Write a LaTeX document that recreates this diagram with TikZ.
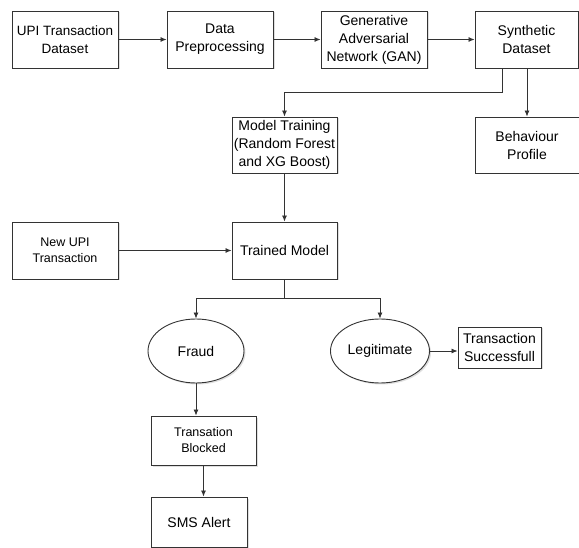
\documentclass[tikz,border=0pt]{standalone}
\usepackage{fontspec}
\setmainfont{Liberation Sans}
\usepackage{tikz}
\usetikzlibrary{arrows.meta}
\usetikzlibrary{shapes.geometric}
\usetikzlibrary{shadows}

\tikzset{
  stepbox/.style={draw=black!80, line width=0.9pt, fill=white, align=center,
    inner sep=1pt, font=\fontsize{14}{18}\selectfont,
    drop shadow={opacity=0.25, shadow xshift=1.5pt, shadow yshift=-1.5pt}},
  smallbox/.style={stepbox, font=\fontsize{12.5}{16}\selectfont},
  outcome/.style={stepbox, ellipse, inner sep=0pt},
  arr/.style={draw=black!80, line width=0.8pt, -{Latex[length=6pt,width=5pt]}}
}

\begin{document}
\begin{tikzpicture}[x=1pt,y=-1pt]
    \useasboundingbox (0,0) rectangle (579,548);
    % first row
    \node[stepbox, minimum width=106pt, minimum height=57pt,
      font=\fontsize{13.5}{18}\selectfont] (upi) at (65,39.5) {UPI Transaction\\Dataset};
    \node[stepbox, minimum width=106pt, minimum height=57pt] (prep) at (220,39.5) {Data\\Preprocessing};
    \node[stepbox, minimum width=106pt, minimum height=57pt] (gan) at (374,39.5) {Generative\\Adversarial\\Network (GAN)};
    \node[stepbox, minimum width=103pt, minimum height=57pt] (synth) at (526.5,39.5) {Synthetic\\Dataset};
    % training
    \node[stepbox, minimum width=104pt, minimum height=56pt] (behav) at (527,145) {Behaviour\\Profile};
    \node[stepbox, minimum width=105pt, minimum height=56pt] (train) at (284.5,145) {Model Training\\(Random Forest\\and XG Boost)};
    \node[smallbox, minimum width=106pt, minimum height=57pt] (newupi) at (65,250.5) {New UPI\\Transaction};
    \node[stepbox, minimum width=105pt, minimum height=57pt] (trained) at (284.5,250.5) {Trained Model};
    % outcomes
    \node[outcome, minimum width=96pt, minimum height=64pt] (fraud) at (196,351) {Fraud};
    \node[outcome, minimum width=99pt, minimum height=64pt] (legit) at (380,351) {Legitimate};
    \node[stepbox, minimum width=83pt, minimum height=41pt] (succ) at (499.5,347.5) {Transaction\\Successfull};
    \node[smallbox, minimum width=105pt, minimum height=49pt] (blocked) at (203.5,440.5) {Transation\\Blocked};
    \node[stepbox, minimum width=96pt, minimum height=50pt] (sms) at (199,522) {SMS Alert};
    \coordinate (fork) at (284.5,298);

    \draw[arr] (upi) -- (prep);
    \draw[arr] (prep) -- (gan);
    \draw[arr] (gan) -- (synth);
    \draw[arr] ([xshift=-24.5pt]synth.south) -- ++(0,-24pt) -| (train.north);
    \draw[arr] (behav.north |- synth.south) -- (behav.north);
    \draw[arr] (train) -- (trained);
    \draw[arr] (newupi) -- (trained);
    \draw[draw=black!80, line width=0.8pt] (trained.south) -- (fork);
    \draw[arr] (fork) -| (fraud.north);
    \draw[arr] (fork) -| (legit.north);
    \draw[arr] (legit.east) -- (legit.east -| succ.west);
    \draw[arr] (fraud.south) -- (fraud.south |- blocked.north);
    \draw[arr] (blocked.south) -- (blocked.south |- sms.north);
  \end{tikzpicture}
\end{document}
